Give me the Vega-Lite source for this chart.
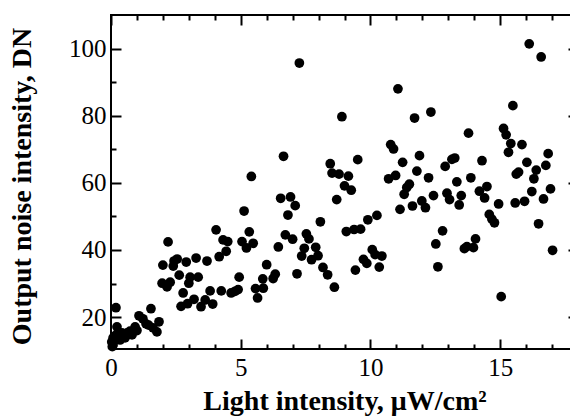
{
  "$schema": "https://vega.github.io/schema/vega-lite/v6.json",
  "width": 467,
  "height": 334,
  "autosize": {"type": "none"},
  "padding": {"left": 111, "top": 15, "right": 0, "bottom": 67},
  "background": "white",
  "config": {
    "view": {"stroke": "black", "strokeWidth": 2},
    "font": "Liberation Serif",
    "axis": {"grid": false, "domain": false, "tickColor": "black", "labelColor": "black", "titleColor": "black",
      "labelFont": "Liberation Serif", "titleFont": "Liberation Serif"}
  },
  "data": {
    "values": [
      {"light": 0.19, "noise": 22.8}, {"light": 0.23, "noise": 17.1}, {"light": 0.42, "noise": 15.3}, {"light": 0.62, "noise": 15.3},
      {"light": 0.81, "noise": 14.7}, {"light": 0.08, "noise": 13.8}, {"light": 0.03, "noise": 12.6}, {"light": 0.08, "noise": 11.7},
      {"light": 0.35, "noise": 13.2}, {"light": 0.54, "noise": 13.8}, {"light": 0.05, "noise": 11.2}, {"light": 1.08, "noise": 20.4},
      {"light": 1.23, "noise": 19.5}, {"light": 1.35, "noise": 18.0}, {"light": 0.93, "noise": 17.1}, {"light": 1.85, "noise": 18.6},
      {"light": 1.62, "noise": 16.8}, {"light": 1.77, "noise": 15.6}, {"light": 1.54, "noise": 22.5}, {"light": 0.73, "noise": 15.8},
      {"light": 0.25, "noise": 15.0}, {"light": 1.45, "noise": 17.6}, {"light": 0.15, "noise": 14.4}, {"light": 1.0, "noise": 16.0},
      {"light": 0.4, "noise": 14.2},
      {"light": 2.0, "noise": 35.5}, {"light": 2.2, "noise": 42.4}, {"light": 2.43, "noise": 36.7}, {"light": 2.55, "noise": 37.3},
      {"light": 2.9, "noise": 36.4}, {"light": 3.28, "noise": 37.6}, {"light": 3.7, "noise": 36.7}, {"light": 2.63, "noise": 32.5},
      {"light": 3.05, "noise": 31.9}, {"light": 3.36, "noise": 31.9}, {"light": 1.97, "noise": 30.1}, {"light": 2.16, "noise": 29.0},
      {"light": 2.28, "noise": 30.4}, {"light": 3.0, "noise": 30.1}, {"light": 2.78, "noise": 27.2}, {"light": 2.7, "noise": 23.2},
      {"light": 2.95, "noise": 24.0}, {"light": 3.2, "noise": 25.3}, {"light": 3.47, "noise": 23.1}, {"light": 3.63, "noise": 25.1},
      {"light": 3.92, "noise": 23.9}, {"light": 3.82, "noise": 27.8}, {"light": 4.25, "noise": 27.8}, {"light": 4.63, "noise": 27.2},
      {"light": 4.78, "noise": 27.7}, {"light": 4.9, "noise": 28.2}, {"light": 4.94, "noise": 31.9}, {"light": 4.05, "noise": 46.0},
      {"light": 4.32, "noise": 43.0}, {"light": 4.5, "noise": 42.5}, {"light": 4.44, "noise": 39.6}, {"light": 4.17, "noise": 38.0},
      {"light": 5.05, "noise": 42.5}, {"light": 5.22, "noise": 40.6}, {"light": 5.48, "noise": 42.0}, {"light": 5.33, "noise": 45.4},
      {"light": 5.13, "noise": 51.6}, {"light": 5.41, "noise": 61.9}, {"light": 5.57, "noise": 28.5}, {"light": 5.65, "noise": 25.7},
      {"light": 2.4, "noise": 35.2},
      {"light": 5.85, "noise": 31.4}, {"light": 5.87, "noise": 28.6}, {"light": 6.0, "noise": 35.6}, {"light": 6.33, "noise": 32.8},
      {"light": 6.25, "noise": 31.5}, {"light": 6.45, "noise": 40.9}, {"light": 6.54, "noise": 55.4}, {"light": 6.92, "noise": 55.8},
      {"light": 7.1, "noise": 53.2}, {"light": 6.82, "noise": 50.4}, {"light": 6.65, "noise": 67.9}, {"light": 6.72, "noise": 44.5},
      {"light": 7.0, "noise": 43.2}, {"light": 7.53, "noise": 44.8}, {"light": 7.63, "noise": 43.3}, {"light": 7.45, "noise": 40.5},
      {"light": 7.89, "noise": 40.8}, {"light": 7.35, "noise": 38.2}, {"light": 7.73, "noise": 37.1}, {"light": 7.98, "noise": 38.3},
      {"light": 8.17, "noise": 34.8}, {"light": 8.35, "noise": 32.6}, {"light": 8.61, "noise": 28.9}, {"light": 7.17, "noise": 32.9},
      {"light": 7.26, "noise": 95.7}, {"light": 8.07, "noise": 48.4}, {"light": 8.45, "noise": 65.7}, {"light": 9.51, "noise": 66.9},
      {"light": 8.52, "noise": 62.9}, {"light": 8.79, "noise": 62.6}, {"light": 9.15, "noise": 62.0}, {"light": 9.0, "noise": 59.1},
      {"light": 9.26, "noise": 57.8}, {"light": 8.7, "noise": 55.0}, {"light": 8.9, "noise": 79.7}, {"light": 9.07, "noise": 45.5},
      {"light": 9.37, "noise": 46.1}, {"light": 9.62, "noise": 46.2}, {"light": 9.9, "noise": 49.0}, {"light": 10.25, "noise": 50.3},
      {"light": 9.42, "noise": 34.0}, {"light": 9.73, "noise": 37.2}, {"light": 9.86, "noise": 36.0}, {"light": 10.07, "noise": 40.1},
      {"light": 10.34, "noise": 34.9}, {"light": 10.44, "noise": 38.2}, {"light": 10.18, "noise": 38.6},
      {"light": 10.7, "noise": 61.2}, {"light": 10.97, "noise": 62.2}, {"light": 10.78, "noise": 71.4}, {"light": 10.89, "noise": 70.1},
      {"light": 11.06, "noise": 88.0}, {"light": 11.24, "noise": 66.1}, {"light": 11.4, "noise": 58.6}, {"light": 11.5, "noise": 59.6},
      {"light": 11.14, "noise": 52.1}, {"light": 11.3, "noise": 56.6}, {"light": 11.62, "noise": 53.1}, {"light": 11.7, "noise": 79.3},
      {"light": 11.79, "noise": 63.5}, {"light": 11.89, "noise": 68.1}, {"light": 11.98, "noise": 54.6}, {"light": 12.12, "noise": 52.6},
      {"light": 12.24, "noise": 61.5}, {"light": 12.33, "noise": 81.1}, {"light": 12.43, "noise": 56.2}, {"light": 12.52, "noise": 41.8},
      {"light": 12.6, "noise": 35.0}, {"light": 12.78, "noise": 45.7}, {"light": 12.88, "noise": 64.9}, {"light": 12.95, "noise": 56.9},
      {"light": 13.05, "noise": 55.0}, {"light": 13.14, "noise": 67.0}, {"light": 13.25, "noise": 67.4}, {"light": 13.33, "noise": 60.3},
      {"light": 13.42, "noise": 53.4}, {"light": 13.5, "noise": 56.2}, {"light": 13.62, "noise": 40.4}, {"light": 13.72, "noise": 41.0},
      {"light": 13.97, "noise": 40.7}, {"light": 14.05, "noise": 43.3}, {"light": 13.78, "noise": 74.8}, {"light": 13.87, "noise": 61.5},
      {"light": 14.2, "noise": 57.5}, {"light": 14.3, "noise": 66.6}, {"light": 14.49, "noise": 58.9}, {"light": 14.4, "noise": 55.5},
      {"light": 14.94, "noise": 53.7}, {"light": 15.58, "noise": 54.0}, {"light": 15.94, "noise": 54.5}, {"light": 16.22, "noise": 57.4},
      {"light": 16.67, "noise": 55.2}, {"light": 16.94, "noise": 58.2}, {"light": 14.58, "noise": 50.6}, {"light": 14.68, "noise": 49.2},
      {"light": 14.78, "noise": 48.1}, {"light": 16.48, "noise": 47.8}, {"light": 17.02, "noise": 39.9}, {"light": 15.04, "noise": 26.1},
      {"light": 15.13, "noise": 76.2}, {"light": 15.23, "noise": 74.3}, {"light": 15.41, "noise": 71.7}, {"light": 15.84, "noise": 71.4},
      {"light": 15.32, "noise": 69.1}, {"light": 16.85, "noise": 68.7}, {"light": 16.03, "noise": 66.1}, {"light": 16.76, "noise": 65.2},
      {"light": 16.39, "noise": 63.8}, {"light": 15.71, "noise": 63.2}, {"light": 15.62, "noise": 62.6}, {"light": 16.3, "noise": 61.2},
      {"light": 15.49, "noise": 83.0}, {"light": 16.12, "noise": 101.4}, {"light": 16.58, "noise": 97.5}
    ]
  },
  "layer": [
    {
      "mark": {"type": "circle", "size": 95, "color": "black", "opacity": 1},
      "encoding": {
        "x": {"field": "light", "type": "quantitative",
          "scale": {"domain": [0, 18], "nice": false, "zero": false},
          "axis": {"orient": "bottom", "values": [0, 5, 10, 15], "ticks": false, "labelFlush": false,
            "labelFontSize": 25, "labelPadding": 6,
            "title": "Light intensity, μW/cm²", "titleFontSize": 28, "titleFontWeight": "bold",
            "titleX": 233.5, "titleY": 60, "titleBaseline": "alphabetic", "titleAlign": "center"}},
        "y": {"field": "noise", "type": "quantitative",
          "scale": {"domain": [10.5, 110], "nice": false, "zero": false},
          "axis": {"orient": "left", "values": [20, 40, 60, 80, 100], "ticks": false, "labelFlush": false,
            "labelFontSize": 25, "labelPadding": 5,
            "title": "Output noise intensity, DN", "titleFontSize": 28, "titleFontWeight": "bold",
            "titleX": -81, "titleY": 171, "titleAngle": -90, "titleBaseline": "alphabetic", "titleAlign": "center"}}
      }
    },
    {
      "mark": {"type": "circle", "opacity": 0},
      "encoding": {
        "x": {"field": "light", "type": "quantitative", "scale": {"domain": [0, 18], "nice": false, "zero": false},
          "axis": {"orient": "bottom", "values": [0, 5, 10, 15], "labels": false, "title": null, "tickSize": 10, "tickWidth": 2, "offset": -10}},
        "y": {"field": "noise", "type": "quantitative", "scale": {"domain": [10.5, 110], "nice": false, "zero": false},
          "axis": {"orient": "left", "values": [20, 40, 60, 80, 100], "labels": false, "title": null, "tickSize": 10, "tickWidth": 2, "offset": -10}}
      }
    },
    {
      "mark": {"type": "circle", "opacity": 0},
      "encoding": {
        "x": {"field": "light", "type": "quantitative", "scale": {"domain": [0, 18], "nice": false, "zero": false},
          "axis": {"orient": "bottom", "values": [1, 2, 3, 4, 6, 7, 8, 9, 11, 12, 13, 14, 16, 17], "labels": false, "title": null, "tickSize": 5, "tickWidth": 2, "offset": -5}},
        "y": {"field": "noise", "type": "quantitative", "scale": {"domain": [10.5, 110], "nice": false, "zero": false},
          "axis": {"orient": "left", "values": [30, 50, 70, 90], "labels": false, "title": null, "tickSize": 5, "tickWidth": 2, "offset": -5}}
      }
    },
    {
      "mark": {"type": "circle", "opacity": 0},
      "encoding": {
        "x": {"field": "light", "type": "quantitative", "scale": {"domain": [0, 18], "nice": false, "zero": false},
          "axis": {"orient": "top", "values": [0, 5, 10, 15], "labels": false, "title": null, "tickSize": 10, "tickWidth": 2, "offset": -10}},
        "y": {"field": "noise", "type": "quantitative", "scale": {"domain": [10.5, 110], "nice": false, "zero": false},
          "axis": {"orient": "right", "values": [20, 40, 60, 80, 100], "labels": false, "title": null, "tickSize": 10, "tickWidth": 2, "offset": -10}}
      }
    },
    {
      "mark": {"type": "circle", "opacity": 0},
      "encoding": {
        "x": {"field": "light", "type": "quantitative", "scale": {"domain": [0, 18], "nice": false, "zero": false},
          "axis": {"orient": "top", "values": [1, 2, 3, 4, 6, 7, 8, 9, 11, 12, 13, 14, 16, 17], "labels": false, "title": null, "tickSize": 5, "tickWidth": 2, "offset": -5}},
        "y": {"field": "noise", "type": "quantitative", "scale": {"domain": [10.5, 110], "nice": false, "zero": false},
          "axis": {"orient": "right", "values": [30, 50, 70, 90], "labels": false, "title": null, "tickSize": 5, "tickWidth": 2, "offset": -5}}
      }
    }
  ],
  "resolve": {"axis": {"x": "independent", "y": "independent"}}
}
